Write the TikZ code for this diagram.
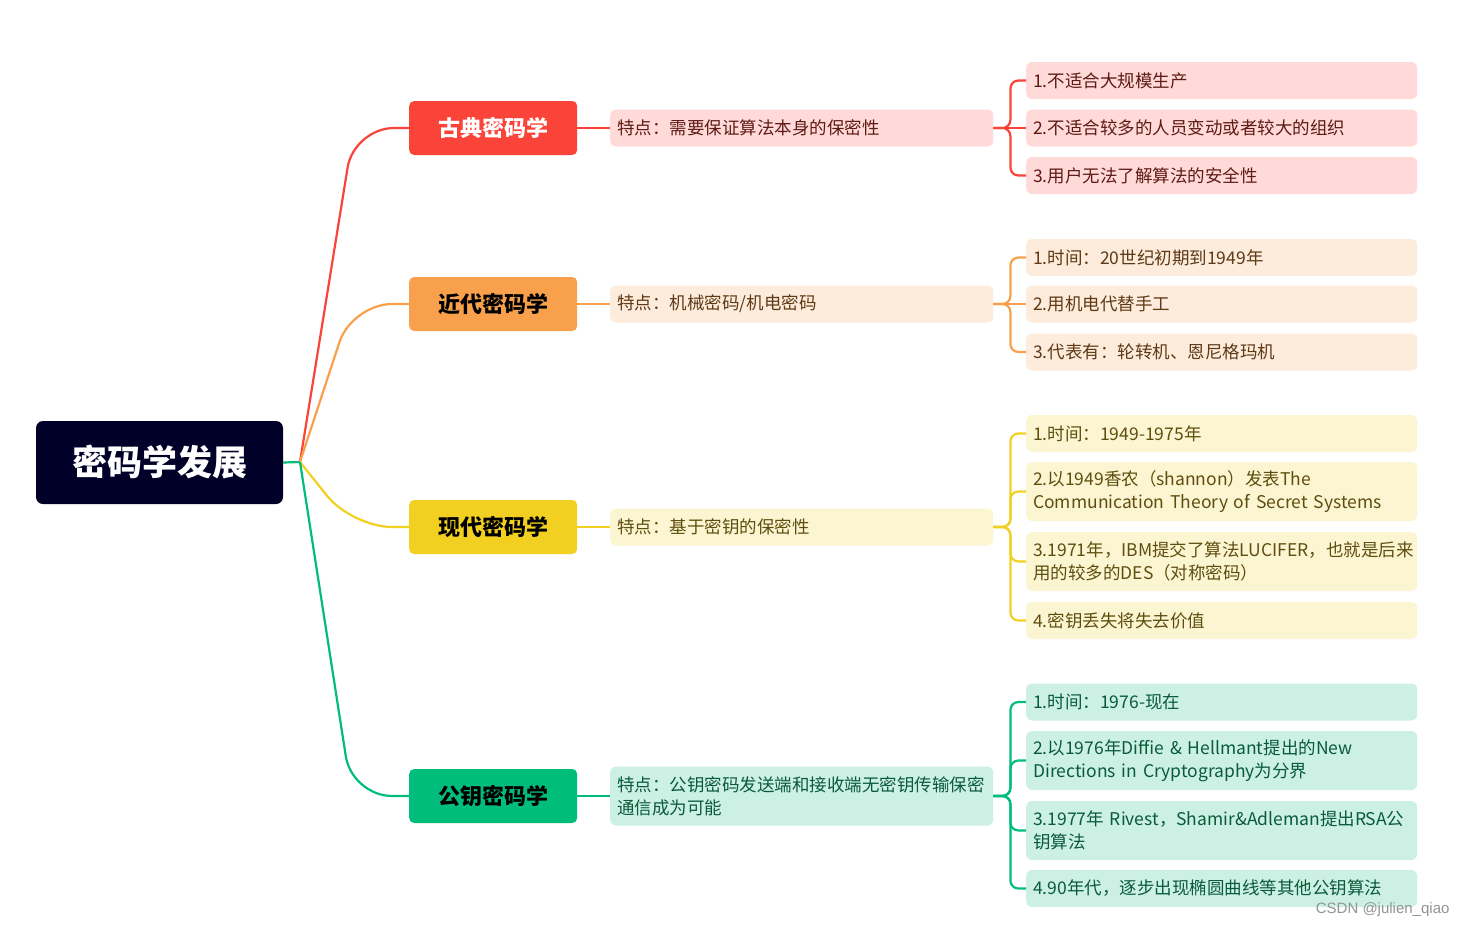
\documentclass[tikz,border=0pt]{standalone}
\usepackage{fontspec}
\setmainfont{Noto Sans CJK SC}
\newfontfamily\markfont{Liberation Sans}
\definecolor{rootbg}{HTML}{000028}
\definecolor{redA}{HTML}{FA4339}
\definecolor{redB}{HTML}{FFDAD8}
\definecolor{redT}{HTML}{5E1B16}
\definecolor{orgA}{HTML}{F8A04B}
\definecolor{orgB}{HTML}{FDEBDB}
\definecolor{orgT}{HTML}{5E3A16}
\definecolor{yelA}{HTML}{F2D022}
\definecolor{yelB}{HTML}{FCF5D2}
\definecolor{yelT}{HTML}{5E4E0E}
\definecolor{grnA}{HTML}{00BD7C}
\definecolor{grnB}{HTML}{CCF1E4}
\definecolor{grnT}{HTML}{0A5A3C}
\begin{document}
\begin{tikzpicture}[x=1pt,y=-1pt,
  root/.style={fill=rootbg,rounded corners=7pt,minimum width=247pt,
    minimum height=83pt,text=white,font=\fontsize{35}{40}\selectfont\bfseries},
  era/.style={rounded corners=5pt,minimum width=168pt,minimum height=54pt,
    font=\fontsize{22}{26}\selectfont\bfseries},
  feat/.style={rounded corners=6pt,text width=369pt,minimum height=37pt,
    inner xsep=7pt,align=left,font=\fontsize{17.5}{23}\selectfont},
  leaf/.style={rounded corners=6pt,text width=377pt,minimum height=37pt,
    inner xsep=7pt,align=left,font=\fontsize{17.5}{23}\selectfont},
  tall/.style={minimum height=59pt},
  redL/.style={fill=redB,text=redT},
  orgL/.style={fill=orgB,text=orgT},
  yelL/.style={fill=yelB,text=yelT},
  grnL/.style={fill=grnB,text=grnT},
  link/.style={line width=2.2pt},
  curvy/.style={link,rounded corners=40pt},
  brace/.style={link,rounded corners=8pt}]
\path[use as bounding box,fill=white] (0,0) rectangle (1468,929);

% root and hub
\node[root] (root) at (159.5,462.5) {密码学发展};
\coordinate (hub) at (300,462);
\draw[link,grnA] (root.east) -- (hub);

% eras
\node[era,fill=redA,text=white,anchor=west] (cls) at (409,128) {古典密码学};
\node[era,fill=orgA,anchor=west] (mech) at (409,304) {近代密码学};
\node[era,fill=yelA,anchor=west] (mod) at (409,527) {现代密码学};
\node[era,fill=grnA,anchor=west] (pub) at (409,796) {公钥密码学};
\draw[curvy,redA] (hub) -- (354,128) -- (cls.west);
\draw[curvy,orgA] (hub) -- (352,304) -- (mech.west);
\draw[curvy,yelA] (hub) -- (352,527) -- (mod.west);
\draw[curvy,grnA] (hub) -- (352,796) -- (pub.west);

% features
\node[feat,redL,anchor=west] (clsF) at (610,128) {特点：需要保证算法本身的保密性};
\node[feat,orgL,anchor=west] (mechF) at (610,304) {特点：机械密码/机电密码};
\node[feat,yelL,anchor=west] (modF) at (610,527) {特点：基于密钥的保密性};
\node[feat,grnL,tall,anchor=west] (pubF) at (610,796)
  {特点：公钥密码发送端和接收端无密钥传输保密\\通信成为可能};
\draw[link,redA] (cls.east) -- (clsF.west);
\draw[link,orgA] (mech.east) -- (mechF.west);
\draw[link,yelA] (mod.east) -- (modF.west);
\draw[link,grnA] (pub.east) -- (pubF.west);

% classical details
\node[leaf,redL,anchor=west] (cls1) at (1026,80.5) {1.不适合大规模生产};
\node[leaf,redL,anchor=west] (cls2) at (1026,128) {2.不适合较多的人员变动或者较大的组织};
\node[leaf,redL,anchor=west] (cls3) at (1026,175.5) {3.用户无法了解算法的安全性};
\draw[brace,redA] (clsF.east) -- ++(17,0) |- (cls1.west);
\draw[brace,redA] (clsF.east) -- (cls2.west);
\draw[brace,redA] (clsF.east) -- ++(17,0) |- (cls3.west);

% mechanical details
\node[leaf,orgL,anchor=west] (mech1) at (1026,257.5) {1.时间：20世纪初期到1949年};
\node[leaf,orgL,anchor=west] (mech2) at (1026,304) {2.用机电代替手工};
\node[leaf,orgL,anchor=west] (mech3) at (1026,352) {3.代表有：轮转机、恩尼格玛机};
\draw[brace,orgA] (mechF.east) -- ++(17,0) |- (mech1.west);
\draw[brace,orgA] (mechF.east) -- (mech2.west);
\draw[brace,orgA] (mechF.east) -- ++(17,0) |- (mech3.west);

% modern details
\node[leaf,yelL,anchor=west] (mod1) at (1026,433.5) {1.时间：1949-1975年};
\node[leaf,yelL,tall,anchor=west] (mod2) at (1026,491.5)
  {2.以1949香农（shannon）发表The\\Communication Theory of Secret Systems};
\node[leaf,yelL,tall,anchor=west] (mod3) at (1026,561.5)
  {3.1971年，IBM提交了算法LUCIFER，也就是后来\\用的较多的DES（对称密码）};
\node[leaf,yelL,anchor=west] (mod4) at (1026,620.5) {4.密钥丢失将失去价值};
\draw[brace,yelA] (modF.east) -- ++(17,0) |- (mod1.west);
\draw[brace,yelA] (modF.east) -- ++(17,0) |- (mod2.west);
\draw[brace,yelA] (modF.east) -- ++(17,0) |- (mod3.west);
\draw[brace,yelA] (modF.east) -- ++(17,0) |- (mod4.west);

% public key details
\node[leaf,grnL,anchor=west] (pub1) at (1026,702) {1.时间：1976-现在};
\node[leaf,grnL,tall,anchor=west] (pub2) at (1026,760.5)
  {2.以1976年Diffie \& Hellmant提出的New\\Directions in Cryptography为分界};
\node[leaf,grnL,tall,anchor=west] (pub3) at (1026,830.5)
  {3.1977年 Rivest，Shamir\&Adleman提出RSA公\\钥算法};
\node[leaf,grnL,anchor=west] (pub4) at (1026,888.5) {4.90年代，逐步出现椭圆曲线等其他公钥算法};
\draw[brace,grnA] (pubF.east) -- ++(17,0) |- (pub1.west);
\draw[brace,grnA] (pubF.east) -- ++(17,0) |- (pub2.west);
\draw[brace,grnA] (pubF.east) -- ++(17,0) |- (pub3.west);
\draw[brace,grnA] (pubF.east) -- ++(17,0) |- (pub4.west);

% watermark
\node[font=\markfont\fontsize{15}{18}\selectfont,text=black!42,anchor=east]
  (mark) at (1453,910) {CSDN @julien\_qiao};
\end{tikzpicture}
\end{document}
